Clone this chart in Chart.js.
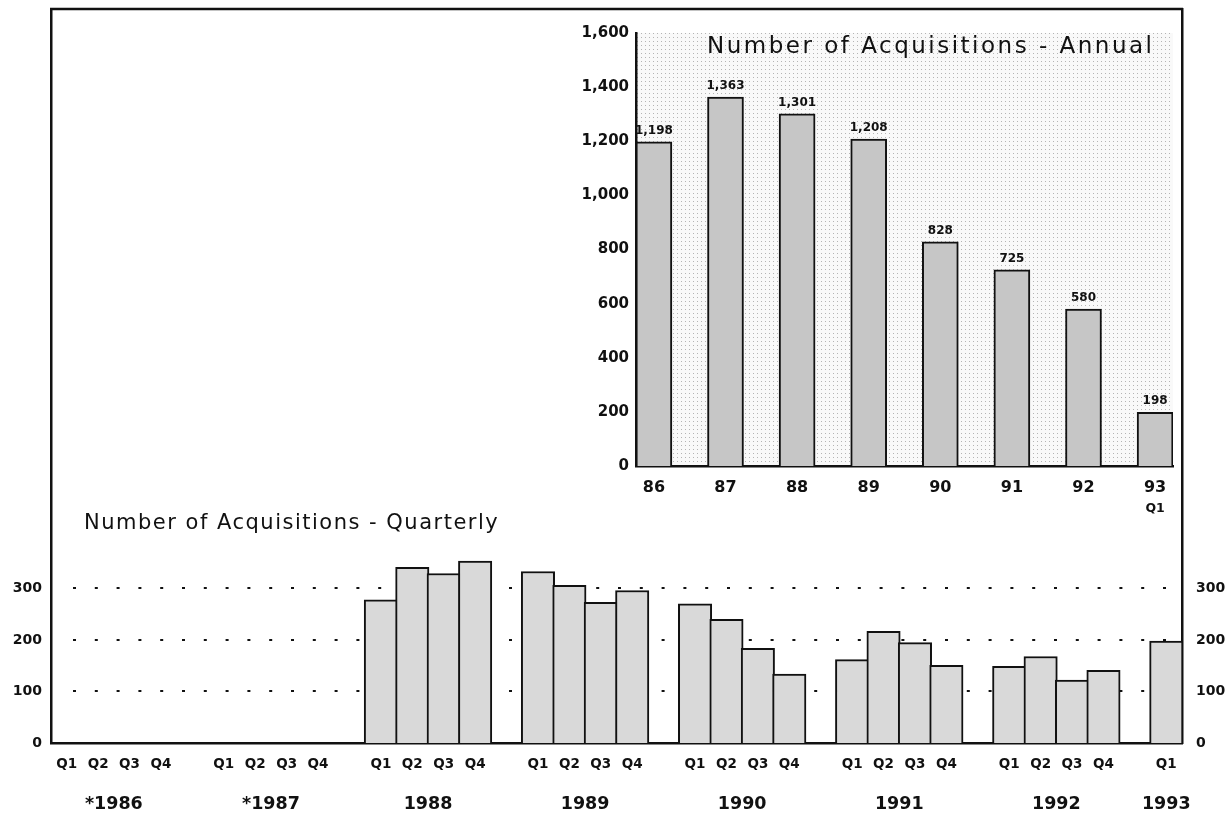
<!DOCTYPE html>
<html>
<head>
<meta charset="utf-8">
<script src="https://cdn.jsdelivr.net/npm/chart.js@4.4.1/dist/chart.umd.min.js"></script>
<style>
  html, body { margin: 0; padding: 0; background: #fff; }
  #wrap { position: relative; width: 1229px; height: 814px; }
  canvas { position: absolute; left: 0; top: 0; }
  #annual { pointer-events: none; }
</style>
</head>
<body>
<div id="wrap">
  <canvas id="quarterly" width="1229" height="814"></canvas>
  <canvas id="annual" width="1229" height="814"></canvas>
</div>
<script>
// ---- Annual totals (1993 = first quarter only) ----
const annualYears = ['86', '87', '88', '89', '90', '91', '92', '93'];
const annualCounts = [1198, 1363, 1301, 1208, 828, 725, 580, 198];
const annualNote = 'Q1';

// ---- Quarterly counts (1986 and 1987 not broken out by quarter) ----
const quarterNames = ['Q1', 'Q2', 'Q3', 'Q4'];
const quarterYears = ['*1986', '*1987', '1988', '1989', '1990', '1991', '1992', '1993'];
const q1986 = [null, null, null, null];
const q1987 = [null, null, null, null];
const q1988 = [278, 341, 329, 353];
const q1989 = [333, 306, 273, 296];
const q1990 = [270, 240, 184, 134];
const q1991 = [162, 217, 195, 151];
const q1992 = [149, 168, 122, 141];
const q1993 = [198];
const quarterlyTicks = [0, 100, 200, 300];
const quarterlyGrid = [100, 200, 300];

const FONT = "'DejaVu Sans', 'Liberation Sans', sans-serif";
const INK = '#111';
Chart.defaults.color = INK;
Chart.defaults.font.family = FONT;

// Build the slot list: four quarters per year, an empty slot between years
const groups = [q1986, q1987, q1988, q1989, q1990, q1991, q1992, q1993];
const qLabels = [];
const qValues = [];
const groupStart = [];
groups.forEach((g, k) => {
  groupStart.push(qLabels.length);
  g.forEach((v, i) => { qLabels.push(quarterNames[i]); qValues.push(v); });
  if (k < groups.length - 1) { qLabels.push(''); qValues.push(null); }
});

// fixed axis box sizes, no extra label padding around the plot
function fixBox(size) {
  return s => {
    if (s.isHorizontal()) s.height = size; else s.width = size;
    s.paddingTop = 0; s.paddingBottom = 0; s.paddingLeft = 0; s.paddingRight = 0;
  };
}

// ---- Quarterly chart decorations ----
const quarterlyDecor = {
  id: 'quarterlyDecor',
  beforeDatasetsDraw(chart) {
    const { ctx, chartArea, scales } = chart;
    ctx.save();
    ctx.strokeStyle = INK;
    ctx.lineWidth = 2;
    ctx.setLineDash([3, 18.8]);
    quarterlyGrid.forEach(v => {
      const y = Math.round(scales.y.getPixelForValue(v));
      ctx.beginPath();
      ctx.moveTo(chartArea.left + 22, y);
      ctx.lineTo(chartArea.right, y);
      ctx.stroke();
    });
    ctx.restore();
  },
  afterDraw(chart) {
    const { ctx, chartArea, scales } = chart;
    ctx.save();
    // top edge of the frame
    ctx.strokeStyle = INK;
    ctx.lineWidth = 2.5;
    ctx.beginPath();
    ctx.moveTo(chartArea.left - 1, chartArea.top);
    ctx.lineTo(chartArea.right + 1, chartArea.top);
    ctx.stroke();

    // chart title
    ctx.fillStyle = INK;
    ctx.font = `21px ${FONT}`;
    ctx.letterSpacing = '1.5px';
    ctx.textAlign = 'left';
    ctx.textBaseline = 'alphabetic';
    ctx.fillText('Number of Acquisitions - Quarterly', 84, 529);

    // year labels under each group of quarters
    ctx.letterSpacing = '0px';
    ctx.font = `bold 17.5px ${FONT}`;
    ctx.textAlign = 'center';
    ctx.textBaseline = 'middle';
    quarterYears.forEach((yr, k) => {
      const n = groups[k].length;
      const mid = groupStart[k] + (n - 1) / 2;
      ctx.fillText(yr, scales.x.getPixelForValue(mid), 804);
    });
    ctx.restore();
  }
};

new Chart(document.getElementById('quarterly'), {
  type: 'bar',
  data: {
    labels: qLabels,
    datasets: [{
      data: qValues,
      backgroundColor: '#d9d9d9',
      borderColor: INK,
      borderWidth: 2,
      borderSkipped: 'bottom',
      barThickness: 33.4
    }]
  },
  options: {
    responsive: false,
    animation: false,
    devicePixelRatio: 1,
    layout: { padding: { top: 9, left: 0, right: 0, bottom: 0 } },
    plugins: { legend: { display: false }, tooltip: { enabled: false }, title: { display: false } },
    scales: {
      x: {
        type: 'category',
        offset: true,
        grid: { display: false, drawTicks: false },
        border: { display: true, color: INK, width: 2.5 },
        ticks: { color: INK, font: { family: FONT, weight: 'bold', size: 13.5 }, padding: 13, maxRotation: 0, autoSkip: false },
        afterFit: fixBox(71)
      },
      y: {
        position: 'left',
        min: 0,
        max: 1425,
        grid: { display: false, drawTicks: false },
        border: { display: true, color: INK, width: 2.5 },
        ticks: { color: INK, font: { family: FONT, weight: 'bold', size: 14 }, padding: 9 },
        afterBuildTicks: s => { s.ticks = quarterlyTicks.map(v => ({ value: v })); },
        afterFit: fixBox(51)
      },
      y2: {
        position: 'right',
        min: 0,
        max: 1425,
        grid: { display: false, drawTicks: false },
        border: { display: true, color: INK, width: 2.5 },
        ticks: { color: INK, font: { family: FONT, weight: 'bold', size: 14 }, padding: 14 },
        afterBuildTicks: s => { s.ticks = quarterlyTicks.map(v => ({ value: v })); },
        afterFit: fixBox(47)
      }
    }
  },
  plugins: [quarterlyDecor]
});

// ---- Annual inset ----
function dotPattern() {
  const c = document.createElement('canvas');
  c.width = 4; c.height = 4;
  const g = c.getContext('2d');
  g.fillStyle = '#f9f9f9';
  g.fillRect(0, 0, 4, 4);
  g.fillStyle = '#b4b4b4';
  g.fillRect(1, 1, 1, 1);
  return g.createPattern(c, 'repeat');
}

const annualDecor = {
  id: 'annualDecor',
  beforeDraw(chart) {
    const { ctx, chartArea } = chart;
    ctx.save();
    ctx.fillStyle = dotPattern();
    ctx.fillRect(chartArea.left, chartArea.top, chartArea.right - chartArea.left, chartArea.bottom - chartArea.top);
    ctx.restore();
  },
  afterDatasetsDraw(chart) {
    const { ctx, scales } = chart;
    const meta = chart.getDatasetMeta(0);
    ctx.save();
    ctx.fillStyle = INK;
    ctx.font = `bold 12px ${FONT}`;
    ctx.textAlign = 'center';
    ctx.textBaseline = 'alphabetic';
    meta.data.forEach((bar, i) => {
      ctx.fillText(annualCounts[i].toLocaleString('en-US'), bar.x, bar.y - 8);
    });
    // partial-year note under the last category
    ctx.font = `bold 12.5px ${FONT}`;
    ctx.textBaseline = 'middle';
    ctx.fillText(annualNote, scales.x.getPixelForValue(annualYears.length - 1), 509);

    // chart title inside the plot
    ctx.font = `23px ${FONT}`;
    ctx.letterSpacing = '2.5px';
    ctx.textAlign = 'left';
    ctx.textBaseline = 'alphabetic';
    ctx.fillText('Number of Acquisitions - Annual', 707, 53);
    ctx.restore();
  }
};

new Chart(document.getElementById('annual'), {
  type: 'bar',
  data: {
    datasets: [{
      data: annualCounts.map((v, i) => ({ x: i, y: v })),
      backgroundColor: '#c6c6c6',
      borderColor: INK,
      borderWidth: 2,
      borderSkipped: 'bottom',
      barThickness: 36
    }]
  },
  options: {
    responsive: false,
    animation: false,
    devicePixelRatio: 1,
    layout: { padding: { top: 33, right: 56, left: 0, bottom: 0 } },
    plugins: { legend: { display: false }, tooltip: { enabled: false }, title: { display: false } },
    scales: {
      x: {
        type: 'linear',
        offset: false,
        min: -0.25,
        max: 7.25,
        grid: { display: false, drawTicks: false },
        border: { display: true, color: INK, width: 2.5 },
        ticks: {
          color: INK,
          font: { family: FONT, weight: 'bold', size: 16 },
          padding: 12,
          callback: v => annualYears[v] ?? ''
        },
        afterBuildTicks: s => { s.ticks = annualYears.map((_, i) => ({ value: i })); },
        afterFit: fixBox(348)
      },
      y: {
        min: 0,
        max: 1600,
        grid: { display: false, drawTicks: false },
        border: { display: true, color: INK, width: 2.5 },
        ticks: {
          stepSize: 200,
          color: INK,
          font: { family: FONT, weight: 'bold', size: 15 },
          padding: 7,
          callback: v => v.toLocaleString('en-US')
        },
        afterFit: fixBox(636)
      }
    }
  },
  plugins: [annualDecor]
});
</script>
</body>
</html>
